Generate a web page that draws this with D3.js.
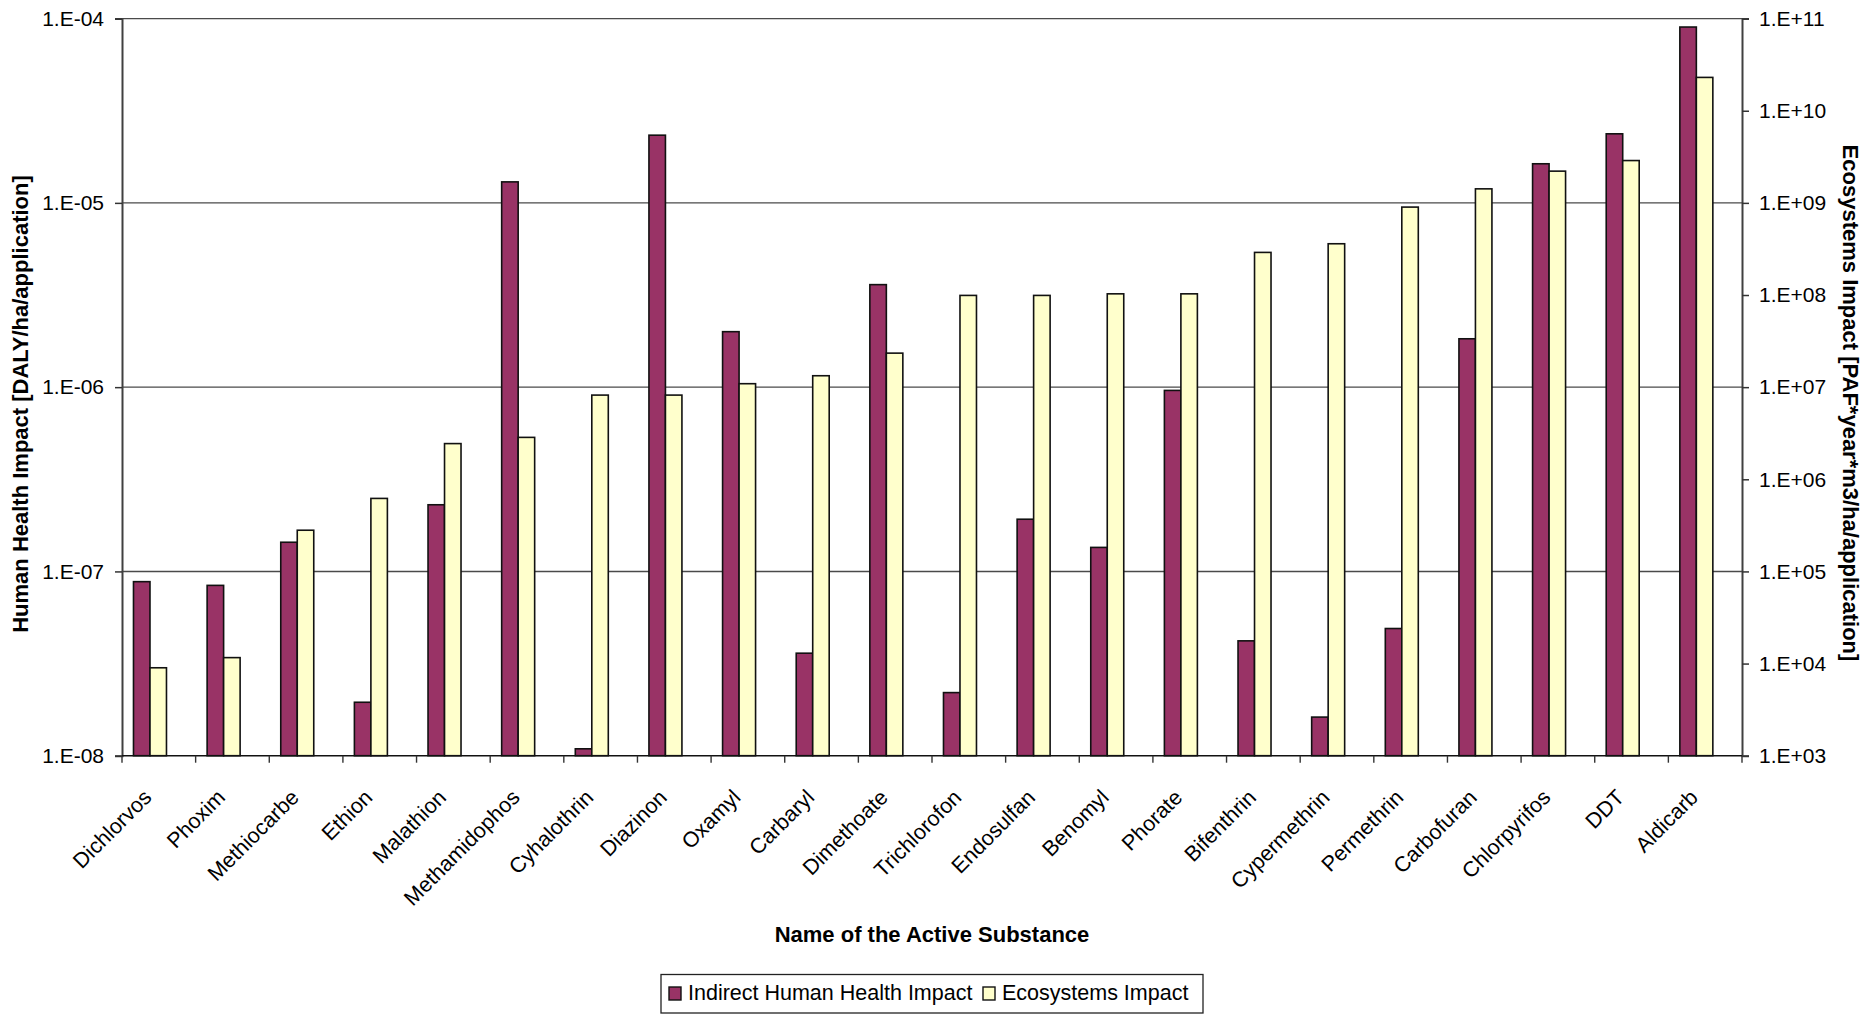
<!DOCTYPE html>
<html>
<head>
<meta charset="utf-8">
<script src="https://cdn.jsdelivr.net/npm/d3@7"></script>
<style>
  html, body { margin: 0; padding: 0; background: #fff; }
  svg { display: block; font-family: Arial, "Liberation Sans", sans-serif; }
</style>
</head>
<body>
<svg id="chart" width="1862" height="1014"></svg>
<script>
// Active substances on the category axis
const categories = ["Dichlorvos", "Phoxim", "Methiocarbe", "Ethion", "Malathion", "Methamidophos",
  "Cyhalothrin", "Diazinon", "Oxamyl", "Carbaryl", "Dimethoate", "Trichlorofon", "Endosulfan",
  "Benomyl", "Phorate", "Bifenthrin", "Cypermethrin", "Permethrin", "Carbofuran", "Chlorpyrifos",
  "DDT", "Aldicarb"];

// Indirect human health impact, DALY/ha/application (left axis)
const humanHealth = [8.8e-8, 8.4e-8, 1.44e-7, 1.95e-8, 2.3e-7, 1.3e-5, 1.09e-8, 2.33e-5, 2.0e-6,
  3.6e-8, 3.6e-6, 2.2e-8, 1.92e-7, 1.35e-7, 9.6e-7, 4.2e-8, 1.62e-8, 4.9e-8, 1.83e-6, 1.63e-5,
  2.37e-5, 9.0e-5];

// Ecosystems impact, PAF*year*m3/ha/application (right axis)
const ecosystems = [9.0e3, 1.16e4, 2.8e5, 6.2e5, 2.44e6, 2.85e6, 8.2e6, 8.2e6, 1.09e7, 1.33e7,
  2.34e7, 9.9e7, 9.9e7, 1.03e8, 1.03e8, 2.9e8, 3.6e8, 9.0e8, 1.42e9, 2.21e9, 2.88e9, 2.3e10];

// Axis ticks
const leftTicks = [1e-8, 1e-7, 1e-6, 1e-5, 1e-4];
const rightTicks = [1e3, 1e4, 1e5, 1e6, 1e7, 1e8, 1e9, 1e10, 1e11];

// Series names and colours
const seriesNames = ["Indirect Human Health Impact", "Ecosystems Impact"];
const seriesColors = ["#993366", "#FFFFCC"];

const svg = d3.select("#chart");
const plot = { left: 122, right: 1742, top: 18.6, bottom: 755.7 };

const x = d3.scaleBand().domain(categories).range([plot.left, plot.right]).padding(0);
const bw = x.bandwidth();
// two bars per group, set slightly left of the category centre
const inner = d3.scaleBand().domain([0, 1])
  .range([bw * 0.156, bw * 0.156 + bw * 0.448]).padding(0);

const yL = d3.scaleLog().domain([1e-8, 1e-4]).range([plot.bottom, plot.top]);
const yR = d3.scaleLog().domain([1e3, 1e11]).range([plot.bottom, plot.top]);

const sciFmt = d => {
  const e = Math.round(Math.log10(d));
  return "1.E" + (e < 0 ? "-" : "+") + String(Math.abs(e)).padStart(2, "0");
};

// horizontal gridlines at the left-axis decades
svg.append("g").selectAll("line").data(leftTicks.slice(1)).join("line")
  .attr("x1", plot.left).attr("x2", plot.right)
  .attr("y1", d => yL(d)).attr("y2", d => yL(d))
  .attr("stroke", "#4a4a4a").attr("stroke-width", 1.4);

// bars
const groups = svg.append("g").selectAll("g").data(categories).join("g")
  .attr("transform", d => `translate(${x(d)},0)`);

groups.append("rect")
  .attr("x", inner(0)).attr("width", inner.bandwidth())
  .attr("y", (d, i) => yL(humanHealth[i]))
  .attr("height", (d, i) => plot.bottom - yL(humanHealth[i]))
  .attr("fill", seriesColors[0]).attr("stroke", "#111").attr("stroke-width", 1.6);

groups.append("rect")
  .attr("x", inner(1)).attr("width", inner.bandwidth())
  .attr("y", (d, i) => yR(ecosystems[i]))
  .attr("height", (d, i) => plot.bottom - yR(ecosystems[i]))
  .attr("fill", seriesColors[1]).attr("stroke", "#111").attr("stroke-width", 1.6);

// left axis
const axL = svg.append("g").attr("transform", `translate(${plot.left},0)`)
  .call(d3.axisLeft(yL).tickValues(leftTicks).tickFormat(sciFmt).tickSize(7).tickPadding(11));
axL.select(".domain").attr("stroke", "#404040").attr("stroke-width", 2);
axL.selectAll(".tick line").attr("stroke", "#333").attr("stroke-width", 1.5);
axL.selectAll(".tick text").attr("font-size", "21px").attr("fill", "#000")
  .attr("font-family", "Arial, 'Liberation Sans', sans-serif");

// right axis
const axR = svg.append("g").attr("transform", `translate(${plot.right},0)`)
  .call(d3.axisRight(yR).tickValues(rightTicks).tickFormat(sciFmt).tickSize(7).tickPadding(10));
axR.select(".domain").attr("stroke", "#404040").attr("stroke-width", 2);
axR.selectAll(".tick line").attr("stroke", "#333").attr("stroke-width", 1.5);
axR.selectAll(".tick text").attr("font-size", "21px").attr("fill", "#000")
  .attr("font-family", "Arial, 'Liberation Sans', sans-serif");

// bottom axis: ticks at category boundaries
const boundaries = categories.map(c => x(c)).concat([plot.right]);
const axB = svg.append("g");
axB.append("line").attr("x1", plot.left).attr("x2", plot.right)
  .attr("y1", plot.bottom).attr("y2", plot.bottom)
  .attr("stroke", "#111").attr("stroke-width", 1.6);
axB.selectAll("line.tk").data(boundaries).join("line").attr("class", "tk")
  .attr("x1", d => d).attr("x2", d => d)
  .attr("y1", plot.bottom).attr("y2", plot.bottom + 7)
  .attr("stroke", "#333").attr("stroke-width", 1.4);

// rotated category labels
axB.selectAll("text").data(categories).join("text")
  .attr("transform", d => `translate(${x(d) + bw / 2 - 6},${plot.bottom + 43}) rotate(-45)`)
  .attr("text-anchor", "end")
  .attr("font-size", "21.5px").attr("fill", "#000")
  .text(d => d);

// axis titles
svg.append("text")
  .attr("transform", "translate(28,404) rotate(-90)")
  .attr("text-anchor", "middle").attr("font-weight", "bold").attr("font-size", "22px")
  .text("Human Health Impact [DALY/ha/application]");

svg.append("text")
  .attr("transform", "translate(1843,403) rotate(90)")
  .attr("text-anchor", "middle").attr("font-weight", "bold").attr("font-size", "22px")
  .text("Ecosystems Impact [PAF*year*m3/ha/application]");

svg.append("text")
  .attr("x", (plot.left + plot.right) / 2).attr("y", 942)
  .attr("text-anchor", "middle").attr("font-weight", "bold").attr("font-size", "22px")
  .text("Name of the Active Substance");

// legend
const legend = svg.append("g");
legend.append("rect").attr("x", 661).attr("y", 974.5).attr("width", 542).attr("height", 38.5)
  .attr("fill", "#fff").attr("stroke", "#222").attr("stroke-width", 1.3);
const legendItems = [{ sx: 669, tx: 688 }, { sx: 983, tx: 1002 }];
legendItems.forEach((p, i) => {
  legend.append("rect").attr("x", p.sx).attr("y", 987).attr("width", 12).attr("height", 13)
    .attr("fill", seriesColors[i]).attr("stroke", "#111").attr("stroke-width", 1.4);
  legend.append("text").attr("x", p.tx).attr("y", 1000)
    .attr("font-size", "21.5px").attr("fill", "#000").text(seriesNames[i]);
});
</script>
</body>
</html>
